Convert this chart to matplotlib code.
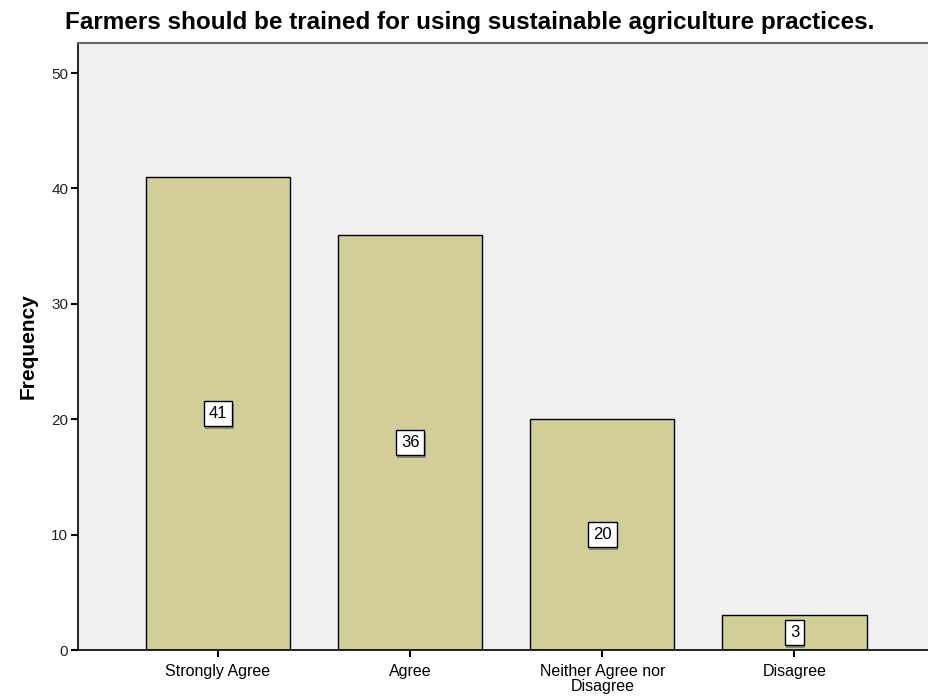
import matplotlib
matplotlib.use("Agg")
import matplotlib.pyplot as plt
import matplotlib.patheffects as pe

categories = ["Strongly Agree", "Agree", "Neither Agree nor\nDisagree", "Disagree"]
frequencies = [41, 36, 20, 3]
yticks = [0, 10, 20, 30, 40, 50]

plt.rcParams['font.family'] = ['Liberation Sans', 'DejaVu Sans']

fig = plt.figure(figsize=(9.29, 6.97), dpi=100)
ax = fig.add_axes([78/929, 1-650/697, 1-78/929, (650-43)/697])
ax.set_facecolor('#F0F0F0')

x = list(range(len(categories)))
ax.bar(x, frequencies, width=0.75, color='#D3CE97', edgecolor='black', linewidth=1.0, zorder=2)

for xi, v in zip(x, frequencies):
    t = ax.text(xi, v/2, str(v), ha='center', va='center', fontsize=12, zorder=3,
                bbox=dict(boxstyle='square,pad=0.3', fc='white', ec='black', lw=1.0))
    t.get_bbox_patch().set_path_effects([pe.SimplePatchShadow(offset=(1, -2), shadow_rgbFace='#777777', alpha=0.8), pe.Normal()])

ax.set_xlim(-0.728, 3.70)
ax.set_ylim(0, 52.6)
ax.set_xticks(x)
ax.set_xticklabels(categories, fontsize=11.5, linespacing=1.0)
ax.set_yticks(yticks)
ax.set_yticklabels([str(t) for t in yticks], fontsize=11, color='#222222')
ax.tick_params(axis='both', direction='out', length=5, width=1.5, color='black')
ax.tick_params(axis='x', pad=5)
ax.tick_params(axis='y', pad=2)

ax.spines['right'].set_visible(False)
ax.spines['top'].set_color('#666666')
ax.spines['top'].set_linewidth(1.5)
ax.spines['left'].set_linewidth(1.2)
ax.spines['bottom'].set_linewidth(1.2)

ax.set_ylabel('Frequency', fontsize=15, fontweight='bold', labelpad=10)
fig.text(470/929, 1-22/697, 'Farmers should be trained for using sustainable agriculture practices.',
         ha='center', va='center', fontsize=17.5, fontweight='bold')

fig.savefig('out.png', dpi=100)
